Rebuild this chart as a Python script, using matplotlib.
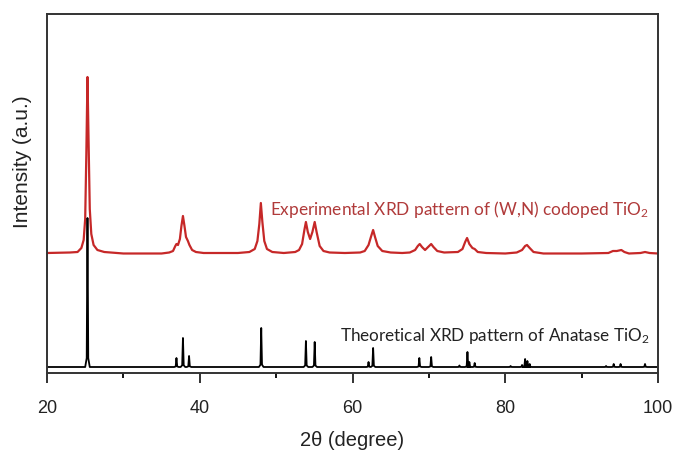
import matplotlib
matplotlib.use("Agg")
import matplotlib.pyplot as plt
import numpy as np

plt.rcParams['font.family'] = ['Liberation Sans', 'DejaVu Sans']
plt.rcParams['mathtext.fontset'] = 'custom'
plt.rcParams['mathtext.rm'] = 'Lato'
plt.rcParams['mathtext.it'] = 'Lato:italic'

# experimental pattern (2theta, counts above baseline)
exp_2theta = [20, 23.0, 24.0, 24.5, 24.8, 25.0, 25.15, 25.3, 25.45, 25.6, 25.8, 26.1, 26.6, 27.5,
              30, 35, 36.0, 36.5, 36.8, 36.95, 37.15, 37.4, 37.6, 37.8, 38.0, 38.2,
              38.45, 38.65, 39.0, 39.5, 40.5, 45,
              46.5, 47.2, 47.55, 47.8, 48.0, 48.2, 48.45, 48.8, 49.5, 51,
              52.5, 53.0, 53.4, 53.7, 53.9, 54.15, 54.45, 54.75, 55.05, 55.3, 55.7, 56.2, 57, 59,
              61.0, 61.6, 62.1, 62.45, 62.7, 62.95, 63.3, 63.9, 65, 66.5,
              67.5, 68.2, 68.55, 68.8, 69.1, 69.5, 69.9, 70.3, 70.6, 71.1, 72,
              73.8, 74.4, 74.75, 75.0, 75.3, 75.7, 76.0, 76.4, 77.5, 80,
              81.5, 82.2, 82.6, 82.85, 83.2, 83.7, 85, 90,
              93.5, 94.1, 94.6, 95.2, 95.6, 96.2, 97.7, 98.3, 98.9, 100]
exp_counts = [1, 1.5, 2, 6, 14, 35, 100, 177, 110, 45, 20, 9, 4, 2,
              0.5, 0.5, 1.5, 3, 8, 10, 9, 15, 28, 38, 28, 17,
              13, 9, 4, 2, 1, 1,
              2, 5, 13, 30, 51, 32, 13, 5, 2, 1,
              2, 4, 10, 24, 32, 22, 15, 22, 32, 22, 8, 3, 1.5, 1,
              1.5, 3, 9, 18, 24, 17, 8, 3, 1.5, 1,
              1.5, 4, 8, 10, 7, 4, 7, 10, 7, 3, 1.5,
              2, 5, 12, 16, 10, 6, 5, 2, 1, 0.5,
              1.5, 4, 8, 9, 6, 2, 0.5, 0.5,
              1, 3, 3, 4, 2, 0.5, 1, 2, 1, 0.5]
exp_offset = 119

# theoretical anatase reflections (2theta, relative height)
ref_2theta = [25.3, 36.95, 37.8, 38.6, 48.05, 53.9, 55.05, 62.1, 62.7, 68.75,
              70.3, 74.0, 75.05, 75.3, 76.0, 80.7, 82.2, 82.6, 82.9, 83.2,
              93.2, 94.2, 95.1, 98.3]
ref_height = [149, 9, 29, 11, 39, 26, 25, 5, 19, 9,
              10, 1.5, 15, 5, 4, 1, 2, 8, 6, 3,
              1, 3, 3, 3]
ref_offset = 6

# stick pattern as narrow peaks with a little foot
rx, ry = [20], [0]
for p, h in zip(ref_2theta, ref_height):
    rx += [p - 0.3, p - 0.1, p, p + 0.1, p + 0.3]
    ry += [0, 0.06 * h, h, 0.06 * h, 0]
rx.append(100)
ry.append(0)

fig = plt.figure(figsize=(6.74, 4.5), dpi=100)
ax = fig.add_axes([47/674, 77/450, 611/674, 359/450])

ax.plot(exp_2theta, np.array(exp_counts) + exp_offset, color='#c62828', lw=1.6)
ax.plot(rx, np.array(ry) + ref_offset, color='black', lw=1.3)

ax.set_xlim(20, 100)
ax.set_ylim(0, 359)
ax.set_xticks([20, 40, 60, 80, 100])
ax.set_xticks([30, 50, 70, 90], minor=True)
ax.tick_params(axis='x', which='major', direction='out', length=7.5, width=1.3,
               labelsize=13, pad=12, colors='#222222')
ax.tick_params(axis='x', which='minor', direction='out', length=3.6, width=1.3)
ax.tick_params(axis='y', left=False, labelleft=False)
for s in ax.spines.values():
    s.set_linewidth(1.4)
    s.set_color('#333333')

ax.set_xlabel('2θ (degree)', fontsize=14.5, labelpad=10, color='#222222')
fig.text(23/674, 1 - 162/450, 'Intensity (a.u.)', rotation=90, fontsize=15,
         ha='center', va='center', color='#222222')

ax.text(98.9, 158, 'Experimental XRD pattern of (W,N) codoped TiO$_2$',
        family='Lato', fontsize=12.4, color='#b03a3a', ha='right', va='baseline')
ax.text(98.9, 32, 'Theoretical XRD pattern of Anatase TiO$_2$',
        family='Lato', fontsize=12.3, color='#222222', ha='right', va='baseline')

fig.savefig('out.png', dpi=100)
